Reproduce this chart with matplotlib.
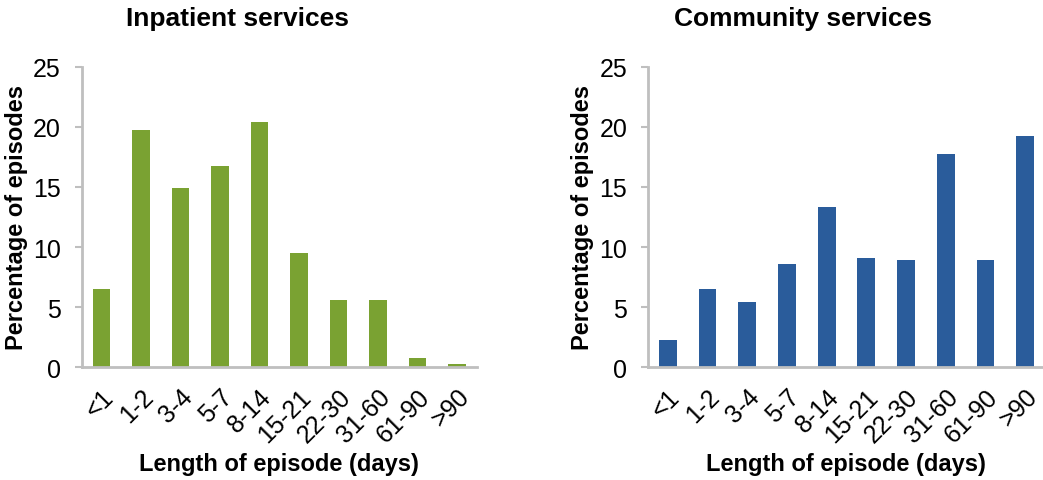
import matplotlib
matplotlib.use('Agg')
import matplotlib.pyplot as plt

plt.rcParams['font.family'] = ['Liberation Sans', 'DejaVu Sans']

categories = ['<1', '1-2', '3-4', '5-7', '8-14', '15-21', '22-30', '31-60', '61-90', '>90']
inpatient = [6.5, 19.7, 14.9, 16.7, 20.4, 9.5, 5.6, 5.6, 0.8, 0.3]
community = [2.3, 6.5, 5.4, 8.6, 13.3, 9.1, 8.9, 17.7, 8.9, 19.2]

green = '#7AA232'
blue = '#2A5C9B'
axis_grey = '#BFBFBF'

W, H = 1043, 481
fig = plt.figure(figsize=(W / 100, H / 100), dpi=100)
ax1 = fig.add_axes([81.7 / W, 112.7 / H, 395 / W, 300.6 / H])
ax2 = fig.add_axes([648 / W, 112.7 / H, 397 / W, 300.6 / H])

# title x centre, ylabel x centre (pixels)
panels = [(ax1, inpatient, green, 'Inpatient services', 237, 17),
          (ax2, community, blue, 'Community services', 803, 583)]

for ax, vals, colour, title, tx, yx in panels:
    x = range(len(categories))
    ax.bar(x, vals, width=0.45, color=colour)
    ax.set_xlim(-0.5, 9.5)
    ax.set_ylim(0, 25)
    ax.set_yticks([0, 5, 10, 15, 20, 25])
    ax.set_xticks(list(x))
    ax.set_xticklabels(categories, rotation=45, ha='right', rotation_mode='anchor')
    ax.tick_params(axis='y', labelsize=18, length=5, width=1.5, color=axis_grey, pad=10)
    ax.tick_params(axis='x', labelsize=18, length=0, pad=12)
    for side in ['top', 'right']:
        ax.spines[side].set_visible(False)
    for side in ['left', 'bottom']:
        ax.spines[side].set_color(axis_grey)
        ax.spines[side].set_linewidth(2)

    pos = ax.get_position()
    xc = (pos.x0 + pos.x1) / 2
    if ax is ax2:
        xc = 846 / W
    fig.text(tx / W, (H - 26) / H, title, fontsize=19, fontweight='bold',
             ha='center', va='baseline')
    fig.text(xc, (H - 471) / H, 'Length of episode (days)', fontsize=17,
             fontweight='bold', ha='center', va='baseline')
    fig.text(yx / W, (pos.y0 + pos.y1) / 2, 'Percentage of episodes', fontsize=17,
             fontweight='bold', ha='center', va='center', rotation=90)

fig.savefig('out.png', dpi=100)
